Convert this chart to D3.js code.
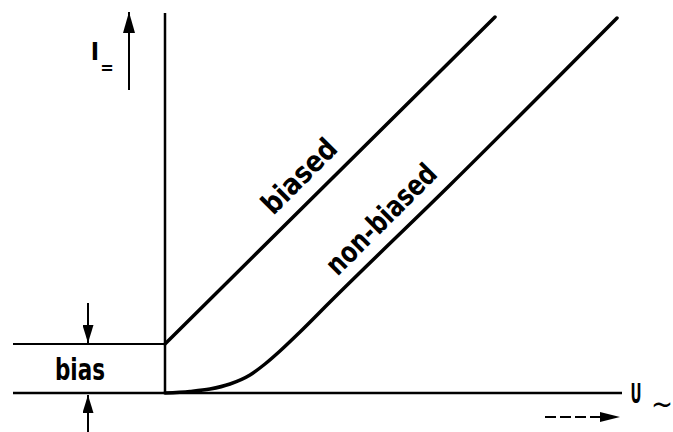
<!DOCTYPE html>
<html>
<head>
<meta charset="utf-8">
<script src="https://cdn.jsdelivr.net/npm/d3@7/dist/d3.min.js"></script>
<style>
  body { margin: 0; background: #fff; }
  text { font-family: "DejaVu Sans Condensed", "Liberation Sans", sans-serif; font-weight: bold; fill: #000; }
</style>
</head>
<body>
<div id="chart"></div>
<script>
// data (U~ in arbitrary units, I= in arbitrary units)
const seriesNames = ["biased", "non-biased"];
const biasLevel = 1.225;
const biasedU = [0, 8.25];
const biasedI = [biasLevel, 9.4];
const nonBiasedU = [0, 0.625, 1.125, 1.625, 2.125, 2.5, 2.875, 3.375, 4.125, 7.125, 11.3];
const nonBiasedI = [0, 0.04, 0.1, 0.225, 0.45, 0.725, 1.05, 1.525, 2.275, 5.2, 9.375];
const axisLabels = { y: "I", ySub: "=", x: "U", xSub: "~" };

const W = 673, H = 432;

const svg = d3.select("#chart").append("svg")
  .attr("width", W)
  .attr("height", H);

const x = d3.scaleLinear().domain([0, 12]).range([165, 645]);
const y = d3.scaleLinear().domain([0, 9.5]).range([393, 13]);

// arrow heads
const defs = svg.append("defs");
function marker(id, len, wid) {
  defs.append("marker")
    .attr("id", id)
    .attr("markerUnits", "userSpaceOnUse")
    .attr("markerWidth", len)
    .attr("markerHeight", wid)
    .attr("refX", len)
    .attr("refY", wid / 2)
    .attr("orient", "auto")
    .append("path")
      .attr("d", "M0,0 L" + len + "," + wid / 2 + " L0," + wid + " Z")
      .attr("fill", "#000");
}
marker("head-big", 21, 12);
marker("head-small", 18, 11);
marker("head-dash", 20, 10);

const uMin = x.invert(13), uMax = x.invert(622);

// axes
const axes = svg.append("g").attr("stroke", "#000").attr("fill", "none");
axes.append("line") // U axis
  .attr("x1", x(uMin)).attr("x2", x(uMax))
  .attr("y1", y(0)).attr("y2", y(0))
  .attr("stroke-width", 2.5);
axes.append("line") // I axis
  .attr("x1", x(0)).attr("x2", x(0))
  .attr("y1", y(0) + 1).attr("y2", y(9.5))
  .attr("stroke-width", 2.5);
axes.append("line") // bias level
  .attr("x1", x(uMin)).attr("x2", x(0))
  .attr("y1", y(biasLevel)).attr("y2", y(biasLevel))
  .attr("stroke-width", 2.2);

// curves
const line = d3.line()
  .x(d => x(d[0]))
  .y(d => y(d[1]))
  .curve(d3.curveMonotoneX);

const series = [
  d3.zip(biasedU, biasedI),
  d3.zip(nonBiasedU, nonBiasedI)
];

svg.append("g").selectAll("path")
  .data(series)
  .enter().append("path")
    .attr("d", line)
    .attr("fill", "none")
    .attr("stroke", "#000")
    .attr("stroke-width", 3.5)
    .attr("stroke-linecap", "round");

// curve labels, rotated along the lines
const labelPos = [[299, 176], [381, 219]];
const labelLen = [93, 143];
svg.append("g").selectAll("text")
  .data(seriesNames)
  .enter().append("text")
    .attr("transform", (d, i) => "translate(" + labelPos[i][0] + "," + labelPos[i][1] + ") rotate(-45)")
    .attr("text-anchor", "middle")
    .attr("dy", "0.35em")
    .attr("textLength", (d, i) => labelLen[i])
    .attr("lengthAdjust", "spacingAndGlyphs")
    .style("font-size", "29px")
    .text(d => d);

// bias marker arrows
const biasX = 88;
svg.append("line")
  .attr("x1", biasX).attr("x2", biasX)
  .attr("y1", y(biasLevel) - 41).attr("y2", y(biasLevel) - 1)
  .attr("stroke", "#000").attr("stroke-width", 2)
  .attr("marker-end", "url(#head-small)");
svg.append("line")
  .attr("x1", biasX).attr("x2", biasX)
  .attr("y1", H).attr("y2", y(0) + 2)
  .attr("stroke", "#000").attr("stroke-width", 2)
  .attr("marker-end", "url(#head-small)");
svg.append("text")
  .attr("x", 80)
  .attr("y", 380)
  .attr("text-anchor", "middle")
  .attr("textLength", 50)
  .attr("lengthAdjust", "spacingAndGlyphs")
  .style("font-size", "30px")
  .text("bias");

// I= label with arrow
svg.append("line")
  .attr("x1", 129).attr("x2", 129)
  .attr("y1", 90).attr("y2", 12)
  .attr("stroke", "#000").attr("stroke-width", 2)
  .attr("marker-end", "url(#head-big)");
svg.append("text")
  .attr("x", 95).attr("y", 60)
  .attr("text-anchor", "middle")
  .style("font-size", "25px")
  .text(axisLabels.y);
svg.append("text")
  .attr("x", 107).attr("y", 74)
  .attr("text-anchor", "middle")
  .style("font-size", "18px")
  .text(axisLabels.ySub);

// U~ label with dashed arrow
svg.append("line")
  .attr("x1", 545).attr("x2", 620)
  .attr("y1", 417).attr("y2", 417)
  .attr("stroke", "#000").attr("stroke-width", 2)
  .attr("stroke-dasharray", "11,4")
  .attr("marker-end", "url(#head-dash)");
svg.append("text")
  .attr("x", 636).attr("y", 403)
  .attr("text-anchor", "middle")
  .attr("textLength", 11)
  .attr("lengthAdjust", "spacingAndGlyphs")
  .style("font-size", "26px")
  .text(axisLabels.x);
svg.append("text")
  .attr("x", 662).attr("y", 414)
  .attr("text-anchor", "middle")
  .attr("textLength", 22)
  .attr("lengthAdjust", "spacingAndGlyphs")
  .style("font-size", "30px")
  .style("font-weight", "normal")
  .text(axisLabels.xSub);
</script>
</body>
</html>
